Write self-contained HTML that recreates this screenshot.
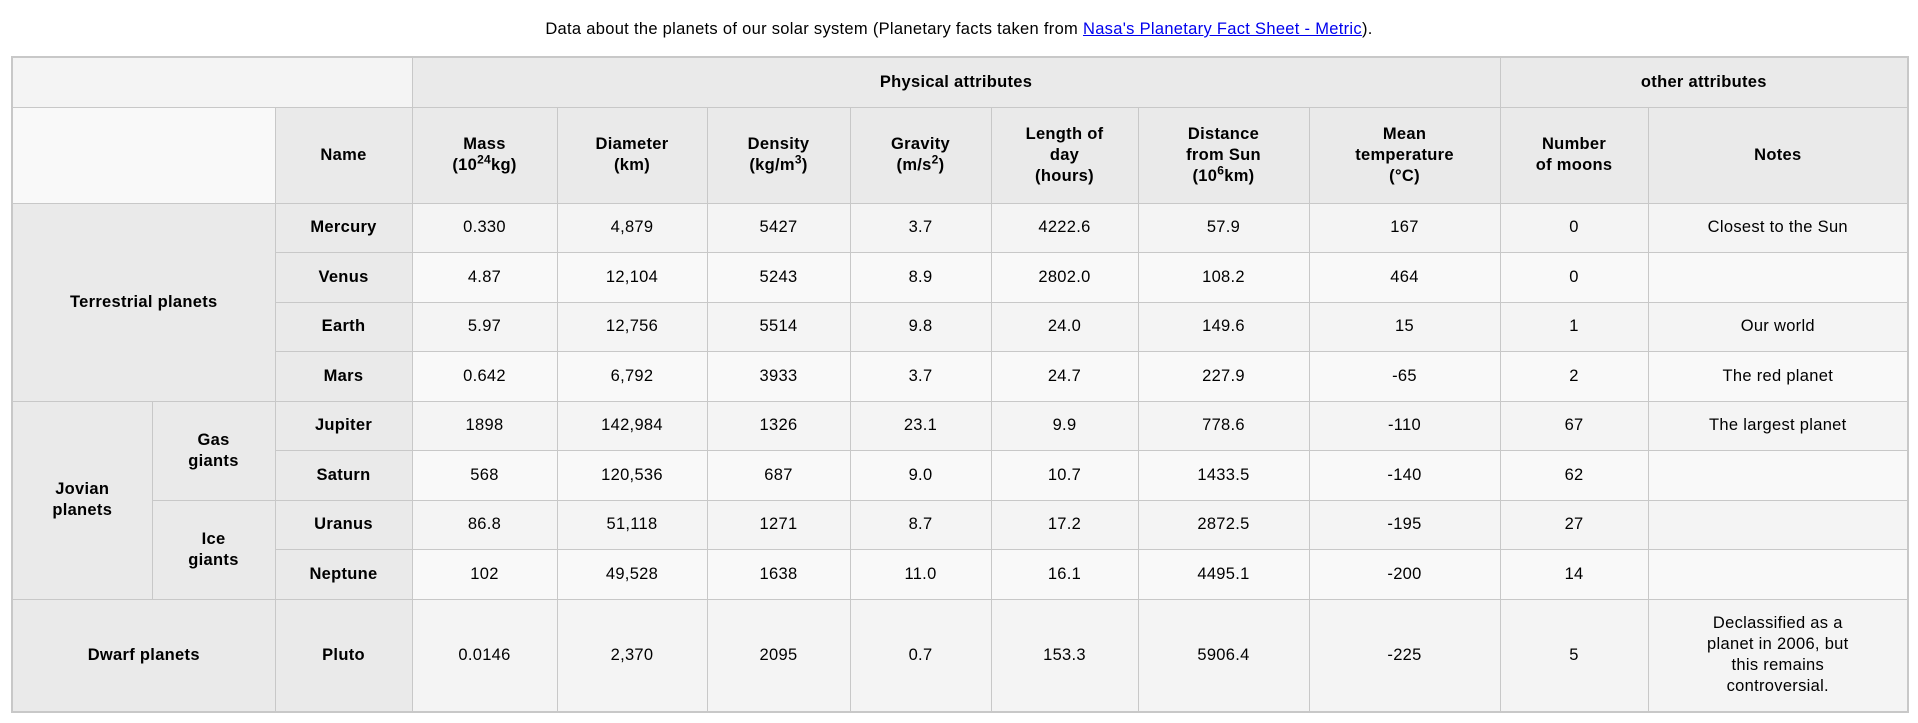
<!DOCTYPE html>
<html><head><meta charset="utf-8"><style>
html,body{margin:0;padding:0;background:#fff;width:1918px;height:723px;overflow:hidden;font-family:"Liberation Sans",Arial,sans-serif;color:#000}
.cap{position:absolute;top:20px;left:0;width:1918px;text-align:center;font-size:16.5px;letter-spacing:0.3px}
.cap a{color:#0000ee;text-decoration:underline}
table{position:absolute;left:11px;top:56px;width:1898px;border-collapse:collapse;table-layout:fixed;font-size:16.5px;letter-spacing:0.3px;border:2px solid #c8c8c8}
td,th{border:1px solid #c8c8c8;text-align:center;vertical-align:middle;padding:0 6px;line-height:21px}
th{background:#eaeaea;font-weight:bold}
tr.r1{height:50px}tr.r2{height:96px}tr.d{height:49.5px}tr.p{height:113px}
tr.o td{background:#f4f4f4}tr.e td{background:#f9f9f9}
.blank1{background:#f4f4f4}.blank2{background:#f9f9f9}
sup{font-size:12px;line-height:0}
</style></head><body>
<div class="cap">Data about the planets of our solar system (Planetary facts taken from <a href="#">Nasa's Planetary Fact Sheet - Metric</a>).</div>
<table>
<colgroup><col style="width:140px"><col style="width:123px"><col style="width:137px"><col style="width:145px"><col style="width:150px"><col style="width:143px"><col style="width:141px"><col style="width:147px"><col style="width:171px"><col style="width:191px"><col style="width:148px"><col style="width:260px"></colgroup>
<tr class="r1"><td colspan="3" class="blank1"></td><th colspan="7">Physical attributes</th><th colspan="2">other attributes</th></tr>
<tr class="r2"><td colspan="2" class="blank2"></td><th>Name</th><th>Mass<br>(10<sup>24</sup>kg)</th><th>Diameter<br>(km)</th><th>Density<br>(kg/m<sup>3</sup>)</th><th>Gravity<br>(m/s<sup>2</sup>)</th><th>Length of<br>day<br>(hours)</th><th>Distance<br>from Sun<br>(10<sup>6</sup>km)</th><th>Mean<br>temperature<br>(°C)</th><th>Number<br>of moons</th><th>Notes</th></tr>
<tr class="d o"><th colspan="2" rowspan="4">Terrestrial planets</th><th>Mercury</th><td>0.330</td><td>4,879</td><td>5427</td><td>3.7</td><td>4222.6</td><td>57.9</td><td>167</td><td>0</td><td>Closest to the Sun</td></tr>
<tr class="d e"><th>Venus</th><td>4.87</td><td>12,104</td><td>5243</td><td>8.9</td><td>2802.0</td><td>108.2</td><td>464</td><td>0</td><td></td></tr>
<tr class="d o"><th>Earth</th><td>5.97</td><td>12,756</td><td>5514</td><td>9.8</td><td>24.0</td><td>149.6</td><td>15</td><td>1</td><td>Our world</td></tr>
<tr class="d e"><th>Mars</th><td>0.642</td><td>6,792</td><td>3933</td><td>3.7</td><td>24.7</td><td>227.9</td><td>-65</td><td>2</td><td>The red planet</td></tr>
<tr class="d o"><th rowspan="4">Jovian<br>planets</th><th rowspan="2">Gas<br>giants</th><th>Jupiter</th><td>1898</td><td>142,984</td><td>1326</td><td>23.1</td><td>9.9</td><td>778.6</td><td>-110</td><td>67</td><td>The largest planet</td></tr>
<tr class="d e"><th>Saturn</th><td>568</td><td>120,536</td><td>687</td><td>9.0</td><td>10.7</td><td>1433.5</td><td>-140</td><td>62</td><td></td></tr>
<tr class="d o"><th rowspan="2">Ice<br>giants</th><th>Uranus</th><td>86.8</td><td>51,118</td><td>1271</td><td>8.7</td><td>17.2</td><td>2872.5</td><td>-195</td><td>27</td><td></td></tr>
<tr class="d e"><th>Neptune</th><td>102</td><td>49,528</td><td>1638</td><td>11.0</td><td>16.1</td><td>4495.1</td><td>-200</td><td>14</td><td></td></tr>
<tr class="p o"><th colspan="2">Dwarf planets</th><th>Pluto</th><td>0.0146</td><td>2,370</td><td>2095</td><td>0.7</td><td>153.3</td><td>5906.4</td><td>-225</td><td>5</td><td style="padding:0 50px">Declassified as a planet in 2006, but this remains controversial.</td></tr>
</table>
</body></html>
